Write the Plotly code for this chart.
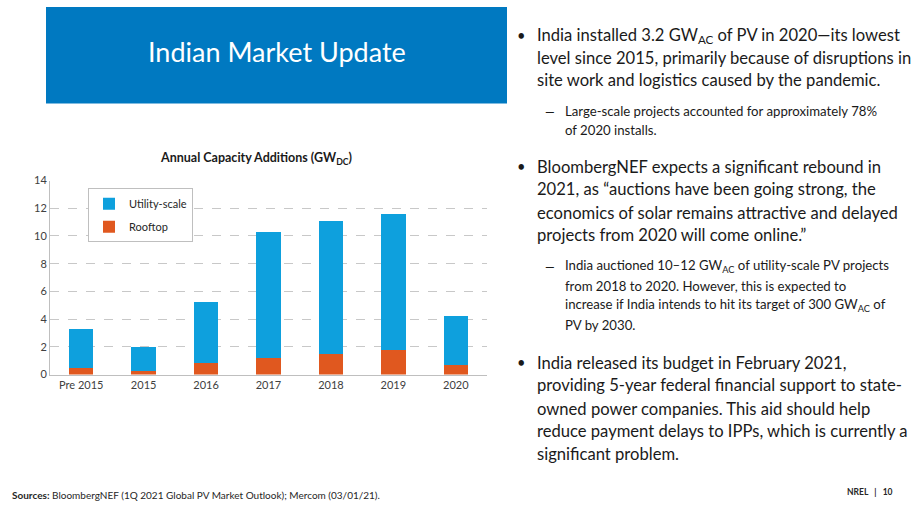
import plotly.graph_objects as go

# ---- data ----
categories = ["Pre 2015", "2015", "2016", "2017", "2018", "2019", "2020"]
rooftop = [0.5, 0.26, 0.8, 1.2, 1.5, 1.8, 0.68]
utility = [2.78, 1.76, 4.47, 9.08, 9.6, 9.78, 3.51]
y_ticks = [0, 2, 4, 6, 8, 10, 12, 14]

W, H = 920, 518
def px(x): return x / W
def py(y): return 1 - y / H

FONT = "Lato, 'Open Sans', sans-serif"
BLUE_BAR = "#0EA0DD"
ORANGE = "#E0581F"
HEADER = "#0079C1"
TEXT = "#1a1a1a"

fig = go.Figure()
fig.add_trace(go.Bar(x=categories, y=rooftop, name="Rooftop", marker_color=ORANGE,
                     marker_line_width=0, legendgroup="b", legendrank=2))
fig.add_trace(go.Bar(x=categories, y=utility, name="Utility-scale", marker_color=BLUE_BAR,
                     marker_line_width=0, legendgroup="a", legendrank=1))

fig.update_layout(
    width=W, height=H, margin=dict(l=0, r=0, t=0, b=0),
    paper_bgcolor="white", plot_bgcolor="white",
    barmode="stack", bargap=0.61,
    font=dict(family=FONT, color=TEXT),
    showlegend=True,
    legend=dict(x=px(88), y=py(186), xanchor="left", yanchor="top",
                traceorder="grouped", tracegroupgap=4,
                bordercolor="#bfbfbf", borderwidth=1, bgcolor="white",
                font=dict(size=11, color="#262626", family=FONT),
                itemwidth=30),
    xaxis=dict(domain=[px(50), px(487)], showgrid=False, showline=True,
               linecolor="#bfbfbf", linewidth=1, ticks="",
               tickfont=dict(size=11, color="#404040"), fixedrange=True),
    yaxis=dict(domain=[py(377), py(178)], range=[0, 14], tickvals=y_ticks,
               showgrid=True, gridcolor="#c8c8c8", griddash="dash", gridwidth=1,
               showline=True, linecolor="#bfbfbf", linewidth=1, zeroline=False,
               tickfont=dict(size=11, color="#404040"), ticks="", ticklen=0,
               fixedrange=True),
)

# header box
fig.add_shape(type="rect", xref="paper", yref="paper", x0=px(46), x1=px(507),
              y0=py(99), y1=py(0), fillcolor=HEADER, line_width=0, layer="below")

ann = []
def t(x, y, s, size, color=TEXT, xanchor="left", bold=False):
    if bold:
        s = "<b>" + s + "</b>"
    ann.append(dict(x=px(x), y=py(y), xref="paper", yref="paper", text=s,
                    showarrow=False, xanchor=xanchor, yanchor="middle",
                    font=dict(size=size, color=color, family=FONT)))

t(277, 46, "Indian Market Update", 27, color="white", xanchor="center")
t(256, 155, "Annual Capacity Additions (GW<sub>DC</sub>)", 12.5, color="#1a1a1a",
  xanchor="center", bold=True)

# right-hand text
B = 16.6
S = 13.2
def bullet(y):
    t(521, y, "•", B - 2, xanchor="center")
def dash(y):
    t(550, y, "—", S - 1, xanchor="center")

bullet(29)
for y, s in [(29, "India installed 3.2 GW<sub>AC</sub> of PV in 2020—its lowest"),
             (52, "level since 2015, primarily because of disruptions in"),
             (75, "site work and logistics caused by the pandemic.")]:
    t(535, y, s, B)
dash(107)
for y, s in [(107, "Large-scale projects accounted for approximately 78%"),
             (126, "of 2020 installs.")]:
    t(563, y, s, S)

bullet(164)
for y, s in [(164, "BloombergNEF expects a significant rebound in"),
             (187, "2021, as “auctions have been going strong, the"),
             (211, "economics of solar remains attractive and delayed"),
             (234, "projects from 2020 will come online.”")]:
    t(535, y, s, B)
dash(266)
for y, s in [(266, "India auctioned 10–12 GW<sub>AC</sub> of utility-scale PV projects"),
             (286, "from 2018 to 2020. However, this is expected to"),
             (306, "increase if India intends to hit its target of 300 GW<sub>AC</sub> of"),
             (326, "PV by 2030.")]:
    t(563, y, s, S)

bullet(365)
for y, s in [(365, "India released its budget in February 2021,"),
             (388, "providing 5-year federal financial support to state-"),
             (412, "owned power companies. This aid should help"),
             (435, "reduce payment delays to IPPs, which is currently a"),
             (458, "significant problem.")]:
    t(535, y, s, B)

# footer
t(10, 501, "<b>Sources:</b> BloombergNEF (1Q 2021 Global PV Market Outlook); Mercom (03/01/21).",
  10, color="#262626")
t(895, 497, "<b>NREL   |   10</b>", 8.5, color="#262626", xanchor="right")

fig.update_layout(annotations=ann)
fig.write_html("out.html")
